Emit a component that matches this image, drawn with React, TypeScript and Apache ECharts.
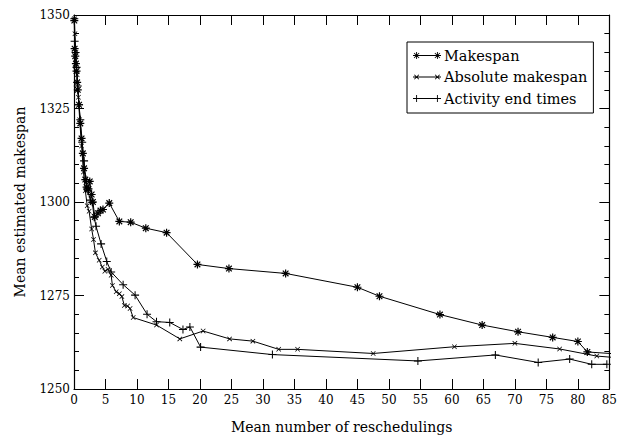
import React, { useEffect, useRef } from "react";
import * as echarts from "echarts";

// ---------- data ----------
const makespanX = [0.05, 0.1, 0.2, 0.3, 0.4, 0.5, 0.6, 0.8, 1.0, 1.2, 1.4, 1.6, 1.8, 2.0, 2.3, 2.5, 2.8, 3.0, 3.3, 3.8, 4.2, 4.6, 5.6, 7.2, 9.0, 11.4, 14.7, 19.6, 24.6, 33.6, 45, 48.5, 58.1, 64.8, 70.5, 76, 80, 81.5, 86];
const makespanY = [1348.5, 1341, 1339, 1337, 1335, 1332, 1330, 1326, 1321, 1317, 1313, 1309, 1306, 1304, 1303.5, 1305.5, 1302, 1300, 1296, 1297, 1297.7, 1298, 1299.7, 1294.8, 1294.6, 1293, 1291.8, 1283.3, 1282.2, 1280.9, 1277.2, 1274.8, 1269.9, 1267.1, 1265.3, 1263.8, 1262.7, 1259.9, 1259.4];

const absoluteX = [0.05, 0.15, 0.3, 0.5, 0.7, 0.9, 1.2, 1.5, 1.8, 2.1, 2.4, 2.8, 3.1, 3.4, 4.0, 4.5, 4.9, 5.4, 5.9, 6.1, 6.7, 7.2, 7.6, 8.0, 8.5, 8.9, 9.4, 13.1, 16.8, 20.5, 24.7, 28.4, 32.5, 35.5, 47.5, 60.4, 70, 77.1, 83, 86];
const absoluteY = [1349, 1345, 1340, 1334, 1328, 1322, 1315, 1308, 1303, 1299, 1297.5, 1292.8, 1290, 1286.4, 1284.4, 1282.6, 1281.5, 1282, 1280.4, 1277.7, 1276, 1275.5, 1274.7, 1272.3, 1272.2, 1271.5, 1269.1, 1267.1, 1263.4, 1265.5, 1263.4, 1262.8, 1260.6, 1260.6, 1259.5, 1261.3, 1262.2, 1260.7, 1258.8, 1258.4];

const activityX = [0.05, 0.1, 0.25, 0.4, 0.6, 0.8, 1.0, 1.3, 1.6, 1.9, 2.2, 2.6, 2.9, 3.2, 3.5, 4.3, 5.2, 5.9, 7.8, 9.7, 11.6, 13.1, 15.2, 17.3, 18.4, 20.1, 31.5, 54.6, 66.9, 73.7, 78.7, 82.2, 84.6];
const activityY = [1349, 1343, 1340, 1336, 1331, 1326, 1322, 1316, 1311, 1306, 1303, 1300.5, 1299.9, 1295.9, 1293.5, 1288.8, 1284.1, 1281.3, 1277.9, 1275.1, 1270, 1268, 1267.8, 1265.9, 1266.6, 1261.2, 1259.2, 1257.5, 1259.1, 1257.1, 1258, 1256.6, 1256.6];

const seriesNames = ["Makespan", "Absolute makespan", "Activity end times"];
const xTicks = { min: 0, max: 85, interval: 5 };
const yTicks = { min: 1250, max: 1350, interval: 25 };

// ---------- symbol shapes ----------
function bar(x1: number, y1: number, x2: number, y2: number, w: number): string {
  const dx = x2 - x1, dy = y2 - y1;
  const len = Math.sqrt(dx * dx + dy * dy) || 1;
  const nx = (-dy / len) * (w / 2), ny = (dx / len) * (w / 2);
  const p = [
    [x1 + nx, y1 + ny], [x2 + nx, y2 + ny], [x2 - nx, y2 - ny], [x1 - nx, y1 - ny],
  ];
  const area = p.reduce((s, c, i) => { const n = p[(i + 1) % 4]; return s + c[0] * n[1] - n[0] * c[1]; }, 0);
  const pts = area < 0 ? p.slice().reverse() : p;
  return "M" + pts.map((q) => q[0].toFixed(2) + " " + q[1].toFixed(2)).join(" L") + " Z ";
}
function plusShape(cx: number, cy: number, r: number, w: number) {
  return bar(cx - r, cy, cx + r, cy, w) + bar(cx, cy - r, cx, cy + r, w);
}
function xShape(cx: number, cy: number, r: number, w: number) {
  const d = r * 0.7071;
  return bar(cx - d, cy - d, cx + d, cy + d, w) + bar(cx + d, cy - d, cx - d, cy + d, w);
}
function starShape(cx: number, cy: number, r: number, w: number) {
  return plusShape(cx, cy, r, w) + xShape(cx, cy, r, w);
}
const starSym = "path://" + starShape(5, 5, 5, 1.5);
const xSym = "path://" + bar(0, 0, 10, 10, 1.6) + bar(10, 0, 0, 10, 1.6);
const plusSym = "path://" + plusShape(5, 5, 5, 1.3);

function legendIcon(kind: string) {
  const W = 28, H = 8, r = 3.6, w = 0.9;
  let s = bar(0, H / 2, W, H / 2, 1.0);
  const f = kind === "star" ? starShape : kind === "x" ? xShape : plusShape;
  const rr = kind === "x" ? 3.2 : r;
  s += f(3.6, H / 2, rr, w) + f(W - 3.6, H / 2, rr, w);
  s += "M0 0 L0.01 0 L0.01 0.01 Z M" + W + " " + H + " L" + (W - 0.01) + " " + H + " L" + (W - 0.01) + " " + (H - 0.01) + " Z";
  return "path://" + s;
}

const FONT = "DejaVu Serif";

export default function App() {
  const ref = useRef<HTMLDivElement>(null);
  useEffect(() => {
    if (!ref.current) return;
    const chart = echarts.init(ref.current, undefined, { renderer: "svg" });
    const pair = (xs: number[], ys: number[]) => xs.map((x, i) => [x, ys[i]]);
    const common = {
      type: "line" as const,
      showSymbol: true,
      showAllSymbol: true,
      clip: true,
      lineStyle: { color: "#000", width: 1 },
      itemStyle: { color: "#000", borderWidth: 0 },
      emphasis: { disabled: true },
    };
    const axisCommonX = {
      type: "value" as const,
      min: xTicks.min, max: xTicks.max, interval: xTicks.interval,
      splitLine: { show: false },
      axisLine: { show: true, onZero: false, lineStyle: { color: "#000", width: 1.2 } },
      axisTick: { show: true, inside: true, length: 10, lineStyle: { color: "#000", width: 1 } },
    };
    const axisCommonY = {
      type: "value" as const,
      min: yTicks.min, max: yTicks.max, interval: yTicks.interval,
      splitLine: { show: false },
      axisLine: { show: true, onZero: false, lineStyle: { color: "#000", width: 1.2 } },
      axisTick: { show: true, inside: true, length: 10, lineStyle: { color: "#000", width: 1 } },
      minorTick: { show: true, splitNumber: 5, length: 5, lineStyle: { color: "#000", width: 1 } },
      minorSplitLine: { show: false },
    };
    chart.setOption({
      animation: false,
      backgroundColor: "#fff",
      textStyle: { fontFamily: FONT },
      grid: { left: 74, right: 10, top: 15, bottom: 48, containLabel: false },
      legend: {
        orient: "vertical",
        left: 407,
        top: 42,
        padding: [6, 6, 7, 6],
        itemGap: 6.5,
        itemWidth: 28,
        itemHeight: 8,
        borderColor: "#000",
        borderWidth: 1,
        borderRadius: 0,
        selectedMode: false,
        itemStyle: { color: "#000", borderWidth: 0 },
        lineStyle: { width: 0 },
        textStyle: { fontFamily: FONT, fontSize: 14.5, color: "#000", padding: [0, 0, 0, -2] },
        data: [
          { name: seriesNames[0], icon: legendIcon("star") },
          { name: seriesNames[1], icon: legendIcon("x") },
          { name: seriesNames[2], icon: legendIcon("plus") },
        ],
      },
      xAxis: [
        {
          ...axisCommonX,
          position: "bottom",
          name: "Mean number of reschedulings",
          nameLocation: "middle",
          nameGap: 31,
          nameTextStyle: { fontFamily: FONT, fontSize: 14, color: "#000" },
          axisLabel: { fontFamily: FONT, fontSize: 12, color: "#000", margin: 5, formatter: (v: number) => String(v) },
        },
        { ...axisCommonX, position: "top", axisLabel: { show: false } },
      ],
      yAxis: [
        {
          ...axisCommonY,
          position: "left",
          name: "Mean estimated makespan",
          nameLocation: "middle",
          nameGap: 47,
          nameTextStyle: { fontFamily: FONT, fontSize: 14, color: "#000" },
          axisLabel: { fontFamily: FONT, fontSize: 12, color: "#000", margin: 4, formatter: (v: number) => String(v) },
        },
        { ...axisCommonY, position: "right", axisLabel: { show: false } },
      ],
      series: [
        { ...common, name: seriesNames[0], symbol: starSym, symbolSize: 8, data: pair(makespanX, makespanY) },
        { ...common, name: seriesNames[1], symbol: xSym, symbolSize: 5, data: pair(absoluteX, absoluteY) },
        { ...common, name: seriesNames[2], symbol: plusSym, symbolSize: 8, data: pair(activityX, activityY) },
      ],
    });
    return () => chart.dispose();
  }, []);
  return (
    <div
      ref={ref}
      style={{ position: "fixed", left: 0, top: 0, width: 620, height: 439, background: "#fff" }}
    />
  );
}
